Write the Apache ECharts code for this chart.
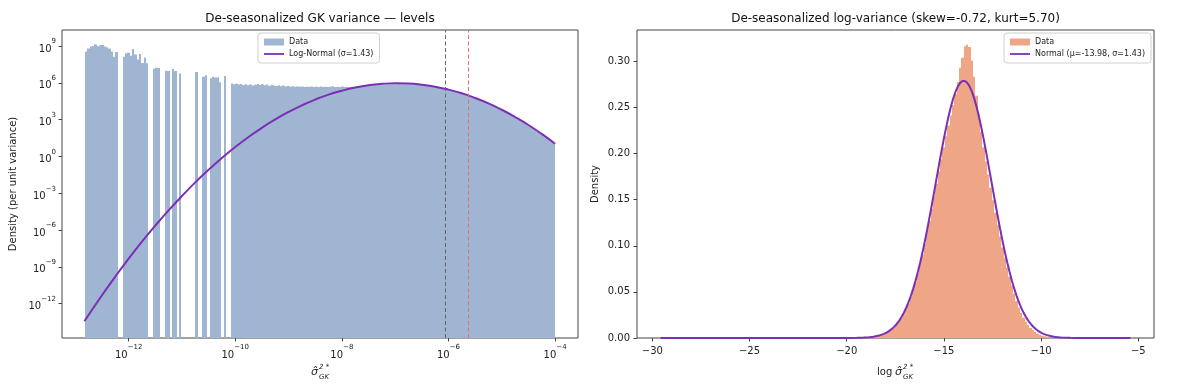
<!DOCTYPE html>
<html>
<head>
<meta charset="utf-8">
<script src="https://cdn.jsdelivr.net/npm/echarts@6/dist/echarts.min.js"></script>
<style>
html,body{margin:0;padding:0;background:#fff;}
#chart{width:1200px;height:385px;}
</style>
</head>
<body>
<div id="chart"></div>
<script>
// ---------- Left panel: levels (log10 space) ----------
const levelsTitle = 'De-seasonalized GK variance — levels';
const levelsCurveName = 'Log-Normal (σ=1.43)';
const levelsBinStartLog10 = -12.82;
const levelsBinWidthLog10 = 0.0441;
// log10 of density per bin (null = empty bin)
const levelsLog10Density = [
  8.55, 8.8, 8.95, 9.0, 9.12, 8.98, 9.05, 9.08, 8.95, 8.9, 8.8, 8.55, 8.12, 8.5,
  null, null,
  8.12, 8.4, 8.45, 8.2, 8.75, 8.3, 7.9, 8.35, 7.62, 8.05, 7.6,
  null, null,
  7.15, 7.22, 7.2,
  null, null,
  6.98, 6.95,
  null,
  7.12, 6.95,
  null,
  6.75,
  null, null, null, null, null, null,
  6.88,
  null, null,
  6.48, 6.62,
  null,
  6.36, 6.5, 6.42, 6.45, 6.05,
  null,
  6.55,
  null, null,
  5.95, 5.88, 5.92, 5.85, 5.9, 5.83, 5.87, 5.8, 5.86, 5.78,
  5.84, 5.9, 5.82, 5.88, 5.79, 5.85, 5.76, 5.83, 5.78, 5.74,
  5.8, 5.72, 5.77, 5.7, 5.74, 5.69, 5.72, 5.68, 5.7, 5.67,
  5.69, 5.66, 5.68, 5.67, 5.7, 5.66, 5.68, 5.65, 5.69, 5.66,
  5.67, 5.65, 5.68, 5.72, 5.66, 5.67, 5.65, 5.7, 5.66, 5.67, 5.65, 5.68, 5.66, 5.67,
  5.66, 5.69, 5.72, 5.74, 5.77, 5.79, 5.81, 5.82, 5.84, 5.85,
  5.86, 5.86, 5.87, 5.87, 5.88, 5.88, 5.88, 5.89, 5.88, 5.88,
  5.88, 5.88, 5.88, 5.87, 5.86, 5.85, 5.83, 5.81, 5.79, 5.76,
  5.73, 5.70, 5.67, 5.63, 5.59, 5.55, 5.51, 5.46, 5.42, 5.37,
  5.32, 5.26, 5.21, 5.15, 5.09, 5.03, 4.96, 4.90, 4.83, 4.76,
  4.69, 4.61, 4.54, 4.46, 4.37, 4.29, 4.20, 4.12, 4.03, 3.93,
  3.84, 3.74, 3.64, 3.54, 3.44, 3.33, 3.23, 3.12, 3.01, 2.89,
  2.78, 2.66, 2.54, 2.41, 2.29, 2.16, 2.03, 1.90, 1.77, 1.63,
  1.49, 1.35, 1.21, 1.07
];
// [log10 x, log10 density] points of the fitted log-normal curve
const levelsCurve = [
  [-12.83,-13.44],[-12.5,-11.32],[-12.25,-9.79],[-12,-8.34],[-11.75,-6.95],[-11.5,-5.64],
  [-11.25,-4.40],[-11,-3.23],[-10.75,-2.12],[-10.5,-1.09],[-10.25,-0.13],[-10,0.76],
  [-9.75,1.58],[-9.5,2.33],[-9.25,3.01],[-9,3.62],[-8.75,4.16],[-8.5,4.63],[-8.25,5.03],
  [-8,5.35],[-7.75,5.61],[-7.5,5.80],[-7.25,5.91],[-7,5.96],[-6.75,5.94],[-6.5,5.84],
  [-6.25,5.68],[-6,5.44],[-5.75,5.14],[-5.5,4.76],[-5.25,4.32],[-5,3.80],[-4.75,3.21],
  [-4.5,2.56],[-4.25,1.83],[-4,1.03]
];
const levelsMedianLog10 = -6.06;
const levelsMeanLog10 = -5.62;
const levelsXTicks = [-12, -10, -8, -6, -4];
const levelsYTicks = [-12, -9, -6, -3, 0, 3, 6, 9];

// ---------- Right panel: log-variance ----------
const logTitle = 'De-seasonalized log-variance (skew=-0.72, kurt=5.70)';
const logCurveName = 'Normal (μ=-13.98, σ=1.43)';
const logBinStart = -29.58;
const logBinWidth = 0.1209;
const logBinOffset = 80;
const logHistDensity = [
  0.00005, 0.00008, 0.00012, 0.00017, 0.00023, 0.00032, 0.00044, 0.00059, 0.00079, 0.00105,
  0.00138, 0.00182, 0.00236, 0.00304, 0.0039, 0.0050, 0.0063, 0.0079, 0.0099, 0.0122,
  0.0150, 0.0183, 0.0222, 0.0267, 0.0319, 0.0377, 0.0445, 0.0520, 0.0604, 0.0696,
  0.0796, 0.0905, 0.1020, 0.1143, 0.1270, 0.1402, 0.1537, 0.1673, 0.1808, 0.1939,
  0.2067, 0.2189, 0.2304, 0.2414, 0.2526, 0.2646, 0.2777, 0.2930, 0.3040, 0.3165,
  0.3180, 0.3155, 0.3010, 0.2834, 0.2627, 0.2423, 0.2236, 0.2069, 0.1915, 0.1772,
  0.1629, 0.1494, 0.1359, 0.1228, 0.1101, 0.0981, 0.0868, 0.0762, 0.0664, 0.0566,
  0.0479, 0.0401, 0.0332, 0.0272, 0.0221, 0.0177, 0.0140, 0.0109, 0.0086, 0.0064,
  0.0047, 0.0035, 0.0025, 0.0018, 0.0013, 0.0009, 0.0006, 0.0005, 0.0003, 0.0002,
  0.0002
];
const logCurve = [
  [-29.58,0],[-25,0],[-22,0],[-20.5,0.00001],[-20,0.00004],
  [-19.485,0.00017],[-19.364,0.00023],[-19.243,0.00032],[-19.122,0.00043],[-19.001,0.00059],
  [-18.880,0.00079],[-18.759,0.00105],[-18.638,0.00138],[-18.518,0.00182],[-18.397,0.00237],
  [-18.276,0.00306],[-18.155,0.00393],[-18.034,0.00502],[-17.913,0.00636],[-17.792,0.00799],
  [-17.671,0.00998],[-17.550,0.01235],[-17.429,0.01522],[-17.308,0.01860],[-17.187,0.02256],
  [-17.066,0.02717],[-16.945,0.03253],[-16.824,0.03859],[-16.703,0.04553],[-16.582,0.05326],
  [-16.461,0.06194],[-16.340,0.07148],[-16.219,0.08189],[-16.098,0.09316],[-15.977,0.1052],
  [-15.856,0.1180],[-15.736,0.1313],[-15.615,0.1451],[-15.494,0.1593],[-15.373,0.1736],
  [-15.252,0.1877],[-15.131,0.2018],[-15.010,0.2153],[-14.889,0.2279],[-14.768,0.2397],
  [-14.647,0.2503],[-14.526,0.2594],[-14.405,0.2670],[-14.284,0.2727],[-14.163,0.2767],
  [-14.042,0.2787],[-13.921,0.2787],[-13.800,0.2768],[-13.679,0.2729],[-13.558,0.2671],
  [-13.437,0.2596],[-13.316,0.2505],[-13.195,0.2400],[-13.074,0.2283],[-12.954,0.2157],
  [-12.833,0.2022],[-12.712,0.1883],[-12.591,0.1741],[-12.470,0.1598],[-12.349,0.1456],
  [-12.228,0.1317],[-12.107,0.1183],[-11.986,0.1055],[-11.865,0.09347],[-11.744,0.08217],
  [-11.623,0.07173],[-11.502,0.06216],[-11.381,0.05349],[-11.260,0.04571],[-11.139,0.03879],
  [-11.018,0.03265],[-10.897,0.02731],[-10.776,0.02268],[-10.655,0.01870],[-10.534,0.01530],
  [-10.413,0.01244],[-10.292,0.01003],[-10.172,0.00805],[-10.051,0.00640],[-9.930,0.00506],
  [-9.809,0.00397],[-9.688,0.00309],[-9.567,0.00239],[-9.446,0.00183],[-9.325,0.00139],
  [-9.204,0.00105],[-9.083,0.00079],[-8.962,0.00059],[-8.5,0.00018],[-8,0.00004],[-7,0],[-5.4,0]
];
const logXTicks = [-30, -25, -20, -15, -10, -5];
const logYTicks = [0, 0.05, 0.10, 0.15, 0.20, 0.25, 0.30];

// ---------- styling ----------
const FONT = 'DejaVu Sans';
const BLUE = '#a0b5d1';
const ORANGE = '#eea686';
const PURPLE = '#7b2fb5';
const AXIS = '#444';
const TXT = '#222';
const LINE_ICON = 'path://M0,0 M20,7 M0,2.6 L20,2.6 L20,4.4 L0,4.4 Z';

function minus(v) { return (v < 0 ? '\u2212' : '') + Math.abs(v); }

const levelsHist = [];
levelsLog10Density.forEach(function (v, k) {
  if (v !== null) {
    levelsHist.push([levelsBinStartLog10 + k * levelsBinWidthLog10,
                     levelsBinStartLog10 + (k + 1) * levelsBinWidthLog10, v]);
  }
});
const logHist = logHistDensity.map(function (v, j) {
  const k = j + logBinOffset;
  return [logBinStart + k * logBinWidth, logBinStart + (k + 1) * logBinWidth, v];
});

function histRender(color) {
  return function (params, api) {
    const p0 = api.coord([api.value(0), api.value(2)]);
    const p1 = api.coord([api.value(1), api.value(2)]);
    const cs = params.coordSys;
    const bottom = cs.y + cs.height;
    const x0 = Math.round(p0[0]);
    const x1 = Math.round(p1[0]);
    return {
      type: 'rect',
      shape: { x: x0, y: p0[1], width: Math.max(1, x1 - x0), height: bottom - p0[1] },
      style: { fill: color }
    };
  };
}

const powRich = {
  b: { fontSize: 10, fontFamily: FONT, color: TXT, lineHeight: 16, verticalAlign: 'bottom' },
  s: { fontSize: 7, fontFamily: FONT, color: TXT, lineHeight: 8, verticalAlign: 'top' }
};
function powFmt(v) { return '{b|10}{s|' + minus(v) + '}'; }

const chart = echarts.init(document.getElementById('chart'), null, { renderer: 'canvas' });
const option = {
  animation: false,
  backgroundColor: '#fff',
  title: [
    { text: levelsTitle, left: 320, top: 12, padding: 0, textAlign: 'center', textVerticalAlign: 'top',
      textStyle: { fontSize: 12, fontWeight: 'normal', fontFamily: FONT, color: '#111', lineHeight: 14 } },
    { text: logTitle, left: 895.5, top: 12, padding: 0, textAlign: 'center', textVerticalAlign: 'top',
      textStyle: { fontSize: 12, fontWeight: 'normal', fontFamily: FONT, color: '#111', lineHeight: 14 } }
  ],
  legend: [
    { orient: 'vertical', left: 258, top: 33, itemWidth: 20, itemHeight: 7, itemGap: 4,
      padding: [5, 6, 5, 6], borderColor: '#cfcfcf', borderWidth: 1, borderRadius: 3,
      backgroundColor: 'rgba(255,255,255,0.85)', selectedMode: false,
      textStyle: { fontSize: 8, fontFamily: FONT, color: TXT },
      data: [ { name: 'Data', icon: 'rect', itemStyle: { color: BLUE } },
              { name: levelsCurveName, icon: LINE_ICON, itemStyle: { color: PURPLE } } ] },
    { orient: 'vertical', right: 49, top: 33, itemWidth: 20, itemHeight: 7, itemGap: 4,
      padding: [5, 6, 5, 6], borderColor: '#cfcfcf', borderWidth: 1, borderRadius: 3,
      backgroundColor: 'rgba(255,255,255,0.85)', selectedMode: false,
      textStyle: { fontSize: 8, fontFamily: FONT, color: TXT },
      data: [ { name: 'Data ', icon: 'rect', itemStyle: { color: ORANGE } },
              { name: logCurveName, icon: LINE_ICON, itemStyle: { color: PURPLE } } ],
      formatter: function (n) { return n.trim(); } }
  ],
  grid: [
    { left: 62, top: 30, width: 516, height: 308, show: true, borderColor: AXIS, borderWidth: 1, backgroundColor: 'transparent' },
    { left: 637, top: 30, width: 517, height: 308, show: true, borderColor: AXIS, borderWidth: 1, backgroundColor: 'transparent' }
  ],
  xAxis: [
    { type: 'value', gridIndex: 0, min: -13.25, max: -3.57, position: 'bottom',
      axisLine: { show: false, onZero: false }, splitLine: { show: false },
      axisTick: { show: true, length: 3.5, lineStyle: { color: AXIS }, customValues: levelsXTicks },
      axisLabel: { customValues: levelsXTicks, margin: 6, formatter: powFmt, rich: powRich } },
    { type: 'value', gridIndex: 1, min: -30.79, max: -4.19, position: 'bottom',
      axisLine: { show: false, onZero: false }, splitLine: { show: false },
      axisTick: { show: true, length: 3.5, lineStyle: { color: AXIS }, customValues: logXTicks },
      axisLabel: { customValues: logXTicks, margin: 7, fontSize: 10, fontFamily: FONT, color: TXT, lineHeight: 12,
                   formatter: function (v) { return minus(v); } } }
  ],
  yAxis: [
    { type: 'value', gridIndex: 0, min: -14.8, max: 10.3, position: 'left',
      name: 'Density (per unit variance)', nameLocation: 'middle', nameGap: 44, nameRotate: 90,
      nameTextStyle: { fontSize: 10, fontFamily: FONT, color: TXT },
      axisLine: { show: false, onZero: false }, splitLine: { show: false },
      axisTick: { show: true, length: 3.5, lineStyle: { color: AXIS }, customValues: levelsYTicks },
      axisLabel: { customValues: levelsYTicks, margin: 6, formatter: powFmt, rich: powRich } },
    { type: 'value', gridIndex: 1, min: 0, max: 0.334, position: 'left',
      name: 'Density', nameLocation: 'middle', nameGap: 37, nameRotate: 90,
      nameTextStyle: { fontSize: 10, fontFamily: FONT, color: TXT },
      axisLine: { show: false, onZero: false }, splitLine: { show: false },
      axisTick: { show: true, length: 3.5, lineStyle: { color: AXIS }, customValues: logYTicks },
      axisLabel: { customValues: logYTicks, margin: 7, fontSize: 10, fontFamily: FONT, color: TXT,
                   formatter: function (v) { return v.toFixed(2); } } }
  ],
  series: [
    { name: 'Data', type: 'custom', xAxisIndex: 0, yAxisIndex: 0, clip: true,
      itemStyle: { color: BLUE }, encode: { x: [0, 1], y: 2 },
      renderItem: histRender(BLUE), data: levelsHist },
    { name: levelsCurveName, type: 'line', xAxisIndex: 0, yAxisIndex: 0, smooth: true,
      symbol: 'none', showSymbol: false, color: PURPLE,
      lineStyle: { color: PURPLE, width: 2 }, data: levelsCurve, z: 3,
      markLine: { symbol: 'none', silent: true, label: { show: false }, animation: false,
        data: [ { xAxis: levelsMedianLog10, lineStyle: { color: '#666', type: [4, 2.5], width: 1 } },
                { xAxis: levelsMeanLog10, lineStyle: { color: '#e07070', type: [4, 2.5], width: 1 } } ] } },
    { name: 'Data ', type: 'custom', xAxisIndex: 1, yAxisIndex: 1, clip: true,
      itemStyle: { color: ORANGE }, encode: { x: [0, 1], y: 2 },
      renderItem: histRender(ORANGE), data: logHist },
    { name: logCurveName, type: 'line', xAxisIndex: 1, yAxisIndex: 1, smooth: false,
      symbol: 'none', showSymbol: false, color: PURPLE,
      lineStyle: { color: PURPLE, width: 2 }, data: logCurve, z: 3 }
  ],
  graphic: [
    { type: 'text', x: 311, y: 372, style: { text: 'σ\u0302', fontSize: 11, fontStyle: 'italic', fontFamily: FONT, fill: TXT, align: 'left', verticalAlign: 'middle' } },
    { type: 'text', x: 319, y: 367.5, style: { text: '2 *', fontSize: 7, fontStyle: 'italic', fontFamily: FONT, fill: TXT, align: 'left', verticalAlign: 'middle' } },
    { type: 'text', x: 319, y: 377, style: { text: 'GK', fontSize: 7, fontStyle: 'italic', fontFamily: FONT, fill: TXT, align: 'left', verticalAlign: 'middle' } },
    { type: 'text', x: 877, y: 372, style: { text: 'log', fontSize: 10, fontFamily: FONT, fill: TXT, align: 'left', verticalAlign: 'middle' } },
    { type: 'text', x: 895, y: 372, style: { text: 'σ\u0302', fontSize: 11, fontStyle: 'italic', fontFamily: FONT, fill: TXT, align: 'left', verticalAlign: 'middle' } },
    { type: 'text', x: 903, y: 367.5, style: { text: '2 *', fontSize: 7, fontStyle: 'italic', fontFamily: FONT, fill: TXT, align: 'left', verticalAlign: 'middle' } },
    { type: 'text', x: 903, y: 377, style: { text: 'GK', fontSize: 7, fontStyle: 'italic', fontFamily: FONT, fill: TXT, align: 'left', verticalAlign: 'middle' } }
  ]
};
chart.setOption(option);
</script>
</body>
</html>
